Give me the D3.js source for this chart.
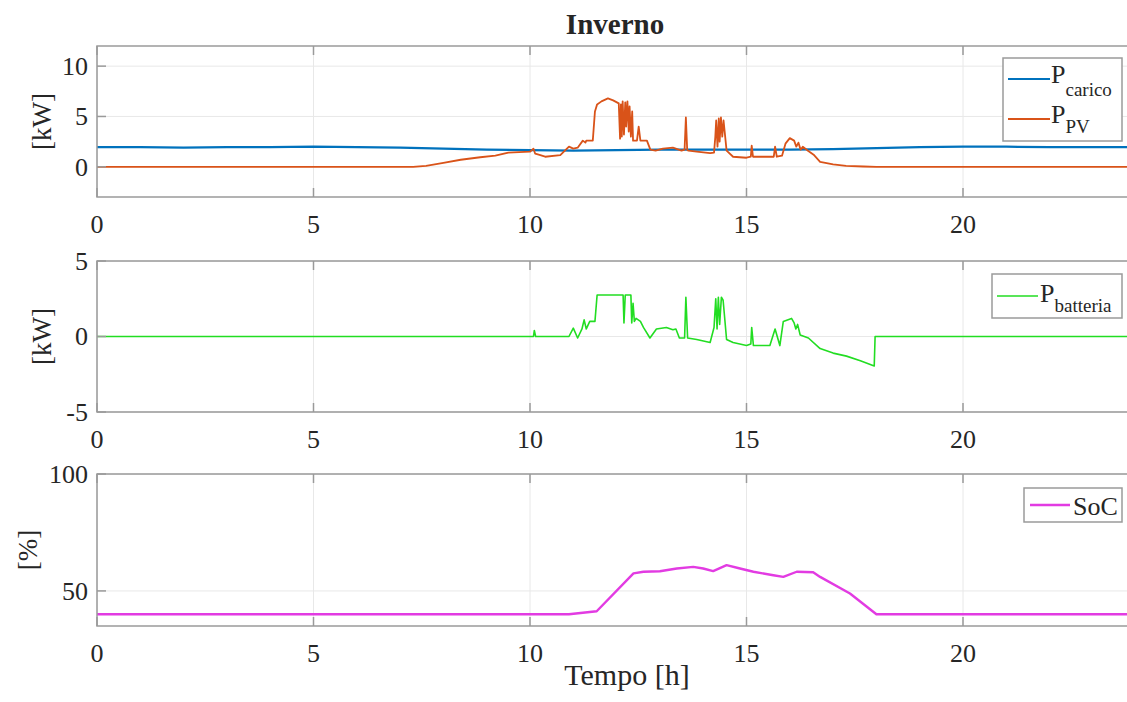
<!DOCTYPE html>
<html><head><meta charset="utf-8">
<script src="https://cdn.jsdelivr.net/npm/d3@7"></script>
<style>
body{margin:0;background:#fff;overflow:hidden}
svg{display:block}
text{font-family:"Liberation Serif","Times New Roman",serif;fill:#262626}
</style>
</head><body><svg id="c" width="1127" height="702"></svg>
<script>
// ---------------- data ----------------
const xTicks = [0, 5, 10, 15, 20];
const yTicksTop = [0, 5, 10];
const yTicksMid = [-5, 0, 5];
const yTicksBot = [50, 100];
const titleText = "Inverno";
const xLabel = "Tempo [h]";
const yLabels = ["[kW]", "[kW]", "[%]"];

// P carico (t [h], kW)
const loadSeries = [[0,1.95],[1,1.95],[2,1.9],[3,1.95],[4,1.95],[5,2.0],[6,1.95],[7,1.9],[8,1.8],[9,1.7],[10,1.65],[11,1.6],[12,1.65],[13,1.7],[14,1.7],[15,1.7],[16,1.7],[17,1.75],[18,1.85],[19,1.95],[20,2.0],[21,2.0],[22,1.95],[23,1.95],[24,1.95]];

// P PV (t [h], kW)
const pvSeries = [[0,0],[7.3,0],[7.6,0.1],[8.0,0.4],[8.4,0.7],[8.85,0.95],[9.2,1.1],[9.5,1.4],[10.0,1.5],[10.08,1.8],[10.12,1.3],[10.2,1.2],[10.35,1.0],[10.7,1.15],[10.9,2.0],[11.0,1.8],[11.1,1.9],[11.22,2.6],[11.28,2.4],[11.3,2.6],[11.45,2.6],[11.5,5.5],[11.55,6.2],[11.65,6.5],[11.8,6.8],[11.92,6.6],[12.05,6.3],[12.08,2.8],[12.1,6.2],[12.12,3.0],[12.14,6.5],[12.17,3.2],[12.2,6.4],[12.22,4.0],[12.25,6.5],[12.28,3.5],[12.3,6.0],[12.33,3.0],[12.36,5.5],[12.38,2.6],[12.47,2.6],[12.51,4.0],[12.55,2.6],[12.7,2.6],[12.78,1.7],[12.9,1.6],[13.07,1.8],[13.3,1.9],[13.5,1.6],[13.57,1.7],[13.6,4.9],[13.63,1.7],[13.66,1.6],[13.85,1.5],[14.16,1.35],[14.25,1.4],[14.28,3.0],[14.3,4.6],[14.33,2.0],[14.36,4.8],[14.38,2.5],[14.41,4.9],[14.44,3.0],[14.47,4.6],[14.54,1.6],[14.69,1.0],[15.0,0.9],[15.1,1.0],[15.12,2.1],[15.15,1.0],[15.55,1.0],[15.63,1.0],[15.66,2.0],[15.7,1.0],[15.82,1.1],[15.9,2.3],[16.0,2.85],[16.1,2.6],[16.15,2.0],[16.2,2.4],[16.25,1.7],[16.3,2.0],[16.42,1.6],[16.55,1.2],[16.7,0.5],[17.0,0.25],[17.3,0.1],[17.7,0.03],[18.0,0],[24,0]];

// P batteria (t [h], kW)
const batSeries = [[0,0],[10.08,0],[10.1,0.4],[10.13,0],[10.9,0],[11.0,0.55],[11.1,-0.1],[11.2,0.5],[11.25,1.1],[11.3,0.5],[11.38,1.0],[11.5,1.0],[11.55,2.75],[12.15,2.75],[12.17,0.9],[12.2,2.75],[12.33,2.75],[12.35,0.9],[12.38,2.2],[12.41,1.0],[12.45,1.2],[12.55,1.0],[12.62,0.6],[12.77,-0.1],[12.92,0.5],[13.15,0.6],[13.3,0.45],[13.37,0.5],[13.45,-0.1],[13.57,-0.1],[13.6,2.6],[13.64,-0.1],[13.85,-0.2],[14.16,-0.4],[14.25,0.6],[14.29,2.5],[14.32,0.5],[14.35,2.6],[14.38,0.8],[14.42,2.6],[14.46,2.4],[14.54,-0.2],[14.69,-0.4],[15.0,-0.6],[15.1,-0.5],[15.12,0.6],[15.16,-0.6],[15.54,-0.6],[15.66,0.5],[15.77,-0.6],[15.85,1.0],[16.04,1.2],[16.1,0.9],[16.14,0.5],[16.18,0.8],[16.24,0.1],[16.43,-0.1],[16.7,-0.8],[17.0,-1.1],[17.31,-1.3],[17.63,-1.6],[17.95,-1.95],[17.97,0],[24,0]];

// SoC (t [h], %)
const socSeries = [[0,40],[10.9,40],[11.54,41.3],[12.39,57.5],[12.62,58.2],[13.0,58.4],[13.39,59.6],[13.77,60.3],[14.0,59.6],[14.23,58.5],[14.54,61],[14.85,59.6],[15.16,58.2],[15.62,56.7],[15.85,56],[16.16,58.2],[16.54,58],[16.7,56],[17.39,48.9],[18.0,40],[24,40]];

// ---------------- drawing ----------------
const svg = d3.select("#c");
const X0 = 97, X1 = 97 + 24 * 43.3;
const x = d3.scaleLinear().domain([0, 24]).range([X0, X1]);

const panels = [
  {top:46, bottom:197, domain:[-3,12], ticks:yTicksTop, label:yLabels[0], labelX:42,
   series:[{d:loadSeries,c:"#0072BD",w:2.2},{d:pvSeries,c:"#D95319",w:1.8}]},
  {top:261, bottom:412, domain:[-5,5], ticks:yTicksMid, label:yLabels[1], labelX:42,
   series:[{d:batSeries,c:"#22dd22",w:1.6}]},
  {top:474, bottom:626, domain:[35,100], ticks:yTicksBot, label:yLabels[2], labelX:28,
   series:[{d:socSeries,c:"#e23be2",w:2.4}]}
];

const gridC = "#e8e8e8", axC = "#9a9a9a";
panels.forEach((p, i) => {
  const y = d3.scaleLinear().domain(p.domain).range([p.bottom, p.top]);
  const g = svg.append("g");
  const cid = "clip" + i;
  svg.append("clipPath").attr("id", cid).append("rect")
    .attr("x", X0).attr("y", p.top).attr("width", X1 - X0).attr("height", p.bottom - p.top);
  // grid
  g.selectAll(".gx").data(xTicks).join("line")
    .attr("x1", d => x(d)).attr("x2", d => x(d)).attr("y1", p.top).attr("y2", p.bottom)
    .attr("stroke", gridC).attr("stroke-width", 1);
  g.selectAll(".gy").data(p.ticks).join("line")
    .attr("x1", X0).attr("x2", X1).attr("y1", d => y(d)).attr("y2", d => y(d))
    .attr("stroke", gridC).attr("stroke-width", 1);
  // lines
  const line = d3.line().x(d => x(d[0])).y(d => y(d[1]));
  p.series.forEach(s => {
    g.append("path").attr("d", line(s.d)).attr("fill", "none")
      .attr("stroke", s.c).attr("stroke-width", s.w).attr("stroke-linejoin", "round")
      .attr("clip-path", `url(#${cid})`);
  });
  // box
  g.append("rect").attr("x", X0).attr("y", p.top).attr("width", X1 - X0).attr("height", p.bottom - p.top)
    .attr("fill", "none").attr("stroke", axC).attr("stroke-width", 1.5);
  // ticks (inward)
  const tl = 9;
  g.selectAll(".tb").data(xTicks).join("line")
    .attr("x1", d => x(d)).attr("x2", d => x(d)).attr("y1", p.bottom).attr("y2", p.bottom - tl)
    .attr("stroke", axC).attr("stroke-width", 1.5);
  g.selectAll(".tt").data(xTicks).join("line")
    .attr("x1", d => x(d)).attr("x2", d => x(d)).attr("y1", p.top).attr("y2", p.top + tl)
    .attr("stroke", axC).attr("stroke-width", 1.5);
  g.selectAll(".tlf").data(p.ticks).join("line")
    .attr("x1", X0).attr("x2", X0 + tl).attr("y1", d => y(d)).attr("y2", d => y(d))
    .attr("stroke", axC).attr("stroke-width", 1.5);
  // tick labels
  g.selectAll(".xl").data(xTicks).join("text")
    .attr("x", d => x(d)).attr("y", p.bottom + 36).attr("text-anchor", "middle")
    .attr("font-size", 26).text(d => d);
  g.selectAll(".yl").data(p.ticks).join("text")
    .attr("x", 88).attr("y", d => y(d)).attr("dy", "0.34em").attr("text-anchor", "end")
    .attr("font-size", 26).text(d => d);
  // y label
  g.append("text").attr("transform", `translate(${p.labelX},${(p.top + p.bottom) / 2}) rotate(-90)`)
    .attr("text-anchor", "middle").attr("dy", "0.34em").attr("font-size", 27).text(p.label);
});

// title & x label
svg.append("text").attr("x", 615).attr("y", 34).attr("text-anchor", "middle")
  .attr("font-size", 29).attr("font-weight", "bold").text(titleText);
svg.append("text").attr("x", 627).attr("y", 685).attr("text-anchor", "middle")
  .attr("font-size", 30).text(xLabel);

// legends
function legend(box, items) {
  const g = svg.append("g");
  g.append("rect").attr("x", box[0]).attr("y", box[1]).attr("width", box[2]).attr("height", box[3])
    .attr("fill", "#fff").attr("stroke", axC).attr("stroke-width", 1.5);
  items.forEach(it => {
    g.append("line").attr("x1", it.lx[0]).attr("x2", it.lx[1]).attr("y1", it.ly).attr("y2", it.ly)
      .attr("stroke", it.c).attr("stroke-width", it.w);
    const t = g.append("text").attr("x", it.tx).attr("y", it.ty).attr("font-size", 26);
    t.append("tspan").text(it.main);
    if (it.sub) t.append("tspan").attr("dy", it.sdy).attr("font-size", 19).text(it.sub);
  });
}
legend([1003, 58, 119, 83], [
  {lx:[1008,1050], ly:79, c:"#0072BD", w:2.2, tx:1051, ty:83, main:"P", sub:"carico", sdy:13},
  {lx:[1008,1050], ly:119, c:"#D95319", w:1.8, tx:1051, ty:123, main:"P", sub:"PV", sdy:10}
]);
legend([992, 274, 130, 44], [
  {lx:[997,1038], ly:296, c:"#22dd22", w:1.6, tx:1040, ty:302, main:"P", sub:"batteria", sdy:10}
]);
legend([1024, 488, 98, 34], [
  {lx:[1030,1070], ly:505, c:"#e23be2", w:2.4, tx:1073, ty:515, main:"SoC"}
]);
</script>
</body></html>
